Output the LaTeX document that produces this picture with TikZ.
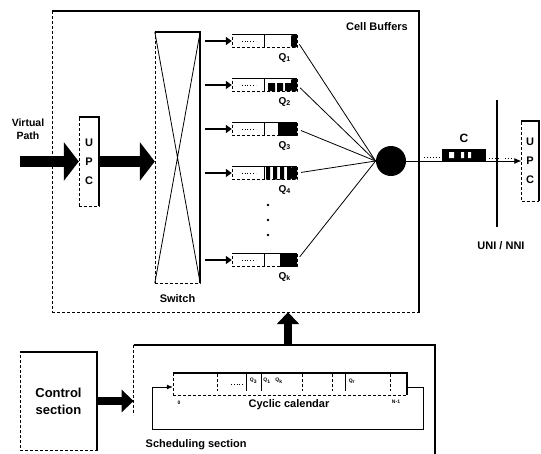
\documentclass[tikz,border=0pt]{standalone}
\usepackage{fontspec}
\setmainfont{Liberation Sans}
\usetikzlibrary{arrows.meta,positioning}

\tikzset{
  rim/.style={line width=2pt},
  faint/.style={densely dashed,line width=0.4pt},
  panel/.style={draw,faint,inner sep=0pt},
  buf/.style={panel,minimum width=65,minimum height=13},
  fatarrow/.style={line width=11pt,-{Triangle[length=15pt,width=38pt]}},
  midarrow/.style={line width=8pt,-{Triangle[length=12pt,width=22pt]}},
  feedarrow/.style={line width=2.2pt,-{Triangle[length=6pt,width=8pt]}},
  lbl/.style={font=\bfseries\fontsize{11}{13}\selectfont},
  calfont/.style={font=\bfseries\fontsize{5}{6}\selectfont,inner sep=0pt},
  upcfont/.style={font=\bfseries\fontsize{11}{19}\selectfont,align=center},
}

\begin{document}
\begin{tikzpicture}[x=1pt,y=-1pt,thick]
    \useasboundingbox (0,0) rectangle (541,453);
    %
    % cell buffer panel
    \node[panel,minimum width=367,minimum height=301] (cells) at (235.5,161.5) {};
    \node[lbl] (cbl) at (377,27) {Cell Buffers};
    %
    % input side
    \coordinate (vp) at (20,161.5);
    \node[font=\bfseries\fontsize{10.5}{12.5}\selectfont,align=center] (vpl) at (28,129) {Virtual\\Path};
    \node[panel,upcfont,minimum width=20,minimum height=89] (upcl) at (89,161.5) {U\\P\\C};
    \node[panel,minimum width=45,minimum height=251] (sw) at (177.5,157.5) {};
    \draw (sw.north west) -- (sw.south east) (sw.north east) -- (sw.south west);
    \node[lbl,below=8pt of sw] (swl) {Switch};
    \draw[fatarrow] (vp) -- (vp -| upcl.west);
    \draw[fatarrow] (upcl.east) -- (upcl.east -| sw.west);
    %
    % server
    \node[circle,fill,minimum size=30,inner sep=0pt] (srv) at (391,161) {};
    %
    % queues
    \node[buf] (q1) at (264.5,41) {};
    \node[buf] (q2) at (264.5,85) {};
    \node[buf] (q3) at (264.5,129) {};
    \node[buf] (q4) at (264.5,173) {};
    \node[buf] (qk) at (264.5,260) {};
    \fill (268,83) rectangle (275,91) (277,83) rectangle (283,91) (285,83) rectangle (291,91);
    \fill (278,122.5) rectangle (297,135.5);
    \fill (266,167) rectangle (270,179.5) (273,167) rectangle (277,179.5)
          (280,167) rectangle (284,179.5) (287,167) rectangle (291,179.5);
    \fill (280,253.5) rectangle (297,266.5);
    \foreach \q/\i in {q1/1,q2/2,q3/3,q4/4,qk/k} {
        \draw[line width=1.6pt] (\q.north west) -- (\q.north east);
        \fill[rounded corners=1.5pt] ([xshift=-6pt]\q.north east) rectangle (\q.south east);
        \draw[line width=0.5pt] (\q.north) -- (\q.south);
        \draw[dotted] ([xshift=10pt]\q.west) -- ([xshift=24pt]\q.west);
        \draw[feedarrow,shorten <=5pt] (sw.east |- \q) -- (\q.west);
        \draw[shorten <=4pt] (\q.east) -- (srv.west);
        \node[font=\bfseries\fontsize{10}{11}\selectfont,anchor=north east,inner sep=0pt]
            at ([xshift=-6pt,yshift=-5pt]\q.south east) {Q\textsubscript{\i}};
    }
    \foreach \y in {205,220,235} \fill (268,\y) circle (1.4pt);
    %
    % output side
    \node[fill,minimum width=44,minimum height=12,inner sep=0pt] (cb) at (464,155) {};
    \fill[white] (449,152) rectangle (454,158) (461,152) rectangle (464,158) (468,152) rectangle (471,158);
    \node[font=\bfseries\fontsize{12}{14}\selectfont,above=2pt of cb] (cbl2) {C};
    \node[panel,upcfont,minimum width=17,minimum height=80] (upcr) at (530,161) {U\\P\\C};
    \draw[-{Latex[length=7pt,width=6pt]}] (srv) -- (upcr);
    \draw[dotted,line width=1pt] (424,157) -- (440,157) (489,158) -- (500,158) (505,158) -- (514,158);
    \coordinate (nt) at (497,100);
    \coordinate (nb) at (497,227);
    \draw[line width=2.5pt] (nt) -- (nb);
    \node[lbl,below=11pt of nb,xshift=4pt] (nl) {UNI / NNI};
    %
    % control and scheduling
    \node[panel,minimum width=77,minimum height=98,align=center,
          font=\bfseries\fontsize{13}{17}\selectfont] (ctrl) at (58.5,401) {Control\\section};
    \node[minimum width=301,minimum height=110,inner sep=0pt] (sched) at (284.5,400) {};
    \draw[faint] (sched.north west) -- ++(0,70);
    \draw[midarrow] (ctrl.east) -- (ctrl.east -| sched.west);
    \draw[midarrow] ([xshift=3.5pt]sched.north) -- ([xshift=3.5pt]sched.north |- cells.south);
    \node[lbl,anchor=west] (schl) at (142,445) {Scheduling section};
    %
    % cyclic calendar
    \node[panel,minimum width=234,minimum height=22] (cal) at (290,384) {};
    \foreach \x in {217,302,332,390} \draw[faint] (\x,374) -- (\x,391);
    \foreach \x in {246,261,345} \draw[line width=0.5pt] (\x,374) -- (\x,391);
    \draw[dotted] (231,384) -- (244,384);
    \node[calfont] at (253.5,381) {Q\textsubscript{3}};
    \node[calfont] at (267,381) {Q\textsubscript{1}};
    \node[calfont] at (279,381) {Q\textsubscript{k}};
    \node[calfont] at (352,381) {Q\textsubscript{r}};
    \node[calfont] at (179,403) {0};
    \node[calfont] at (396,402) {N-1};
    \node[lbl] (call) at (289,405) {Cyclic calendar};
    \draw[-{Latex[length=6pt,width=5pt]}] ([yshift=-3pt]cal.east) -- ++(16,0) -- ++(0,42)
        -| ([xshift=-20pt,yshift=-3pt]cal.west) -- ([yshift=-3pt]cal.west);
    %
    \foreach \n in {cells,upcl,upcr,sw,ctrl,sched,cal}
        \draw[rim] (\n.north west) -- (\n.north east) -- (\n.south east);
    %
\end{tikzpicture}
\end{document}
